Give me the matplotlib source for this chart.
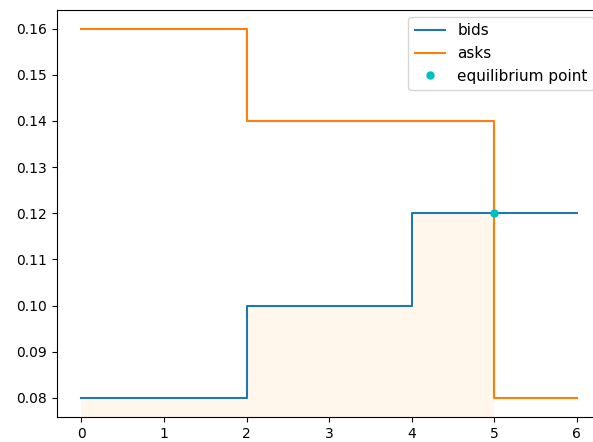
import matplotlib
matplotlib.use("Agg")
import matplotlib.pyplot as plt
import numpy as np

# step data (where='post')
bid_x = [0, 2, 4, 6]
bid_y = [0.08, 0.10, 0.12, 0.12]
ask_x = [0, 2, 5, 6]
ask_y = [0.16, 0.14, 0.08, 0.08]
eq_x = 5
eq_y = 0.12

fig = plt.figure(figsize=(5.93, 4.42), dpi=100)
# the reference is cropped on the right, so the axes run past the image edge
ax = fig.add_axes([0.0956, 0.057, 0.9186, 0.921])

ax.step(bid_x, bid_y, where='post', label='bids')
ax.step(ask_x, ask_y, where='post', label='asks')
ax.plot(eq_x, eq_y, 'o', color='c', markersize=5, label='equilibrium point')

# surplus area under bids up to the equilibrium quantity
fx = np.array(bid_x[:3] + [eq_x])
fy = np.array(bid_y[:3] + [eq_y])
ax.fill_between(fx, fy, 0, step='post', color='orange', alpha=0.08, linewidth=0)

ax.set_ylim(0.0759, 0.1641)
ax.legend(loc='upper right', fontsize=11)

fig.savefig('out.png', dpi=100)
